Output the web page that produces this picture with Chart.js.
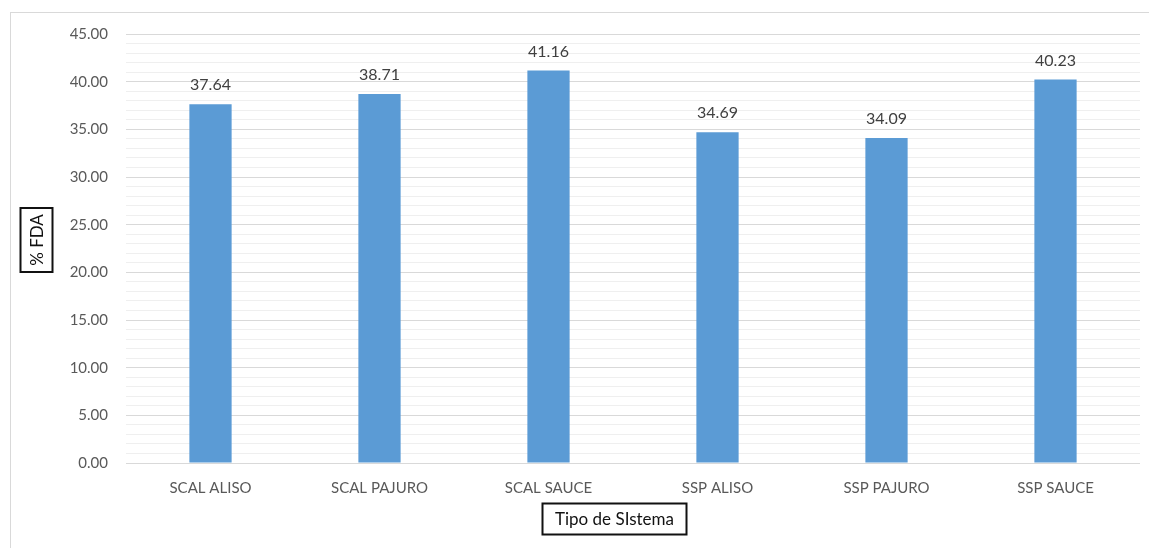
<!DOCTYPE html>
<html>
<head>
<meta charset="utf-8">
<script src="https://cdn.jsdelivr.net/npm/chart.js@4.4.1/dist/chart.umd.min.js"></script>
<style>
  html, body { margin: 0; padding: 0; background: #fff; }
  #wrap { width: 1149px; height: 548px; }
</style>
</head>
<body>
<div id="wrap"><canvas id="myChart" width="1149" height="548"></canvas></div>
<script>
const categories = ["SCAL ALISO", "SCAL PAJURO", "SCAL SAUCE", "SSP ALISO", "SSP PAJURO", "SSP SAUCE"];
const fdaValues = [37.64, 38.71, 41.16, 34.69, 34.09, 40.23];
const yTitle = "% FDA";
const xTitle = "Tipo de SIstema";

const FONT = "Lato, 'Open Sans', sans-serif";

// light frame around the whole chart
const framePlugin = {
  id: "frame",
  beforeDraw(chart) {
    const ctx = chart.ctx;
    ctx.save();
    ctx.fillStyle = "#fff";
    ctx.fillRect(0, 0, chart.width, chart.height);
    ctx.strokeStyle = "#d9d9d9";
    ctx.lineWidth = 1;
    ctx.strokeRect(10.5, 12.5, chart.width, chart.height);
    ctx.restore();
  }
};

// numbers above each bar
const valueLabels = {
  id: "valueLabels",
  afterDatasetsDraw(chart) {
    const ctx = chart.ctx;
    const meta = chart.getDatasetMeta(0);
    ctx.save();
    ctx.font = "16px " + FONT;
    ctx.fillStyle = "#404040";
    ctx.textAlign = "center";
    ctx.textBaseline = "bottom";
    meta.data.forEach((bar, i) => {
      ctx.fillText(fdaValues[i].toFixed(2), bar.x, bar.y - 11);
    });
    ctx.restore();
  }
};

// axis titles drawn inside black boxes
function boxedText(ctx, text, cx, cy, w, h, rotate) {
  ctx.save();
  ctx.translate(cx, cy);
  if (rotate) ctx.rotate(-Math.PI / 2);
  ctx.strokeStyle = "#111";
  ctx.lineWidth = 2;
  ctx.strokeRect(-w / 2, -h / 2, w, h);
  ctx.fillStyle = "#111";
  ctx.font = "17px " + FONT;
  ctx.textAlign = "center";
  ctx.textBaseline = "middle";
  ctx.fillText(text, 0, 1);
  ctx.restore();
}

const axisTitles = {
  id: "axisTitles",
  afterDraw(chart) {
    const ctx = chart.ctx;
    boxedText(ctx, yTitle, 36.5, 240, 64, 32, true);
    boxedText(ctx, xTitle, 614.5, 519, 144, 31, false);
  }
};

const ctx = document.getElementById("myChart").getContext("2d");
new Chart(ctx, {
  type: "bar",
  data: {
    labels: categories,
    datasets: [{
      data: fdaValues,
      backgroundColor: "#5b9bd5",
      barPercentage: 0.25,
      categoryPercentage: 1.0
    }]
  },
  options: {
    responsive: false,
    animation: false,
    layout: { padding: { left: 0, right: 9, top: 34, bottom: 0 } },
    plugins: {
      legend: { display: false },
      tooltip: { enabled: false }
    },
    scales: {
      x: {
        grid: { display: false, drawTicks: false },
        border: { display: false },
        ticks: {
          color: "#595959",
          font: { family: FONT, size: 15 },
          padding: 16,
          maxRotation: 0
        },
        afterFit(scale) { scale.height = 85; }
      },
      y: {
        min: 0,
        max: 45,
        grid: {
          drawTicks: false,
          color: (c) => (c.tick && c.tick.value % 5 === 0) ? "#d9d9d9" : "#efefef"
        },
        border: { display: false },
        ticks: {
          stepSize: 1,
          autoSkip: false,
          color: "#595959",
          font: { family: FONT, size: 15 },
          padding: 18,
          callback: (v) => v % 5 === 0 ? v.toFixed(2) : ""
        },
        afterFit(scale) { scale.width = 126; }
      }
    }
  },
  plugins: [framePlugin, valueLabels, axisTitles]
});
</script>
</body>
</html>
